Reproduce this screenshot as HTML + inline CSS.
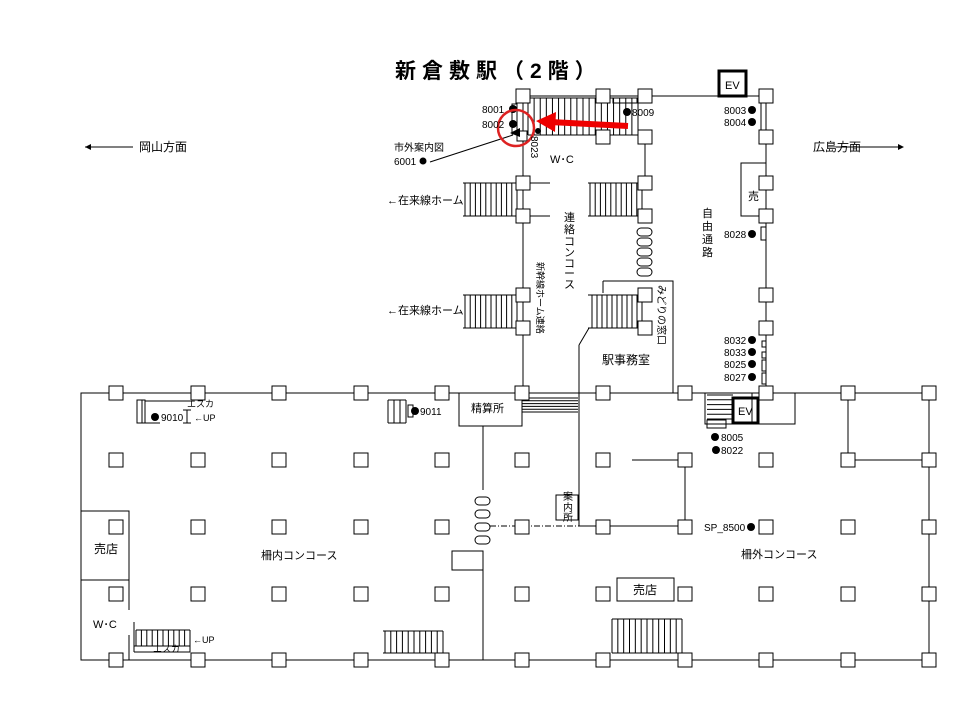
<!DOCTYPE html>
<html><head><meta charset="utf-8"><style>
body{margin:0;background:#fff}
svg{display:block}
text{font-family:"Liberation Sans","Noto Sans CJK JP",sans-serif;font-size:11px;fill:#000}
</style></head><body>
<svg id="s" width="960" height="720" viewBox="0 0 960 720" xmlns="http://www.w3.org/2000/svg">
<g stroke="#000" stroke-width="1" fill="none">
<path d="M81 393H929V660H81Z"/>
<path d="M523 96H766V393"/>
<path d="M523 96V393"/>
<path d="M579 345V526H685V460M632 460H685"/>
<path d="M589 328L579 345"/>
<path d="M603 281H673V393"/>
<path d="M603 281V293"/>
<path d="M645 137V183"/>
<path d="M523 183H550M590 183H645M523 216H550M590 216H645"/>
<path d="M766 163H741V216H766"/>
<rect x="761" y="103" width="5" height="30"/>
<rect x="761" y="227" width="5" height="13"/>
<rect x="762" y="341" width="4" height="6"/><rect x="762" y="352" width="4" height="6"/><rect x="762" y="360" width="4" height="11"/><rect x="762" y="373" width="4" height="11"/>
<rect x="613" y="98" width="24" height="5"/>
<rect x="512" y="104" width="5" height="30"/>
<rect x="459" y="393" width="63" height="33"/>
<path d="M483 426V490M483 570V660"/>
<rect x="452" y="551" width="31" height="19"/>
<path d="M490 526H603" stroke-dasharray="6,2,1,2"/>
<rect x="556" y="495" width="22" height="25"/>
<path d="M705 393H752M705 393V424H733"/>
<rect x="752" y="393" width="43" height="31"/>
<rect x="707" y="420" width="19" height="8"/>
<path d="M848 393V460H929"/>
<path d="M81 511H129V660M81 580H129"/>
<path d="M129 610V635" stroke="#fff" stroke-width="2"/>
<rect x="617" y="578" width="57" height="23"/>
<rect x="137" y="400" width="5" height="23"/><rect x="142" y="400" width="3" height="23"/>
<path d="M145 401H190M145 423H160M187 410V423M183 410H191M183 423H191"/>
<path d="M134 646H190V652H134M134 622V652"/>
<rect x="408" y="405" width="5" height="12"/>
<rect x="719" y="71" width="27" height="25" stroke-width="3"/>
<rect x="733" y="398" width="25" height="25" stroke-width="3"/>
<path d="M430 162L513 135"/>
</g>
<g id="st" stroke="#000" stroke-width="1" fill="none"></g>
<g id="pl" stroke="#000" stroke-width="1" fill="#fff"></g>
<g stroke="#000" fill="#fff">
<rect x="637" y="228" width="15" height="8" rx="4"/><rect x="637" y="238" width="15" height="8" rx="4"/><rect x="637" y="248" width="15" height="8" rx="4"/><rect x="637" y="258" width="15" height="8" rx="4"/><rect x="637" y="268" width="15" height="8" rx="4"/>
<rect x="475" y="497" width="15" height="8" rx="4"/><rect x="475" y="510" width="15" height="8" rx="4"/><rect x="475" y="523" width="15" height="8" rx="4"/><rect x="475" y="536" width="15" height="8" rx="4"/>
</g>
<path d="M510 133L520 128V137Z" fill="#000"/>
<g fill="#000">
<circle cx="513" cy="109" r="4"/><circle cx="513" cy="124" r="4"/><circle cx="627" cy="112" r="4"/>
<circle cx="538" cy="131" r="3"/>
<circle cx="423" cy="161" r="3.5"/>
<circle cx="752" cy="110" r="4"/><circle cx="752" cy="122" r="4"/><circle cx="752" cy="234" r="4"/>
<circle cx="752" cy="340" r="4"/><circle cx="752" cy="352" r="4"/><circle cx="752" cy="364" r="4"/><circle cx="752" cy="377" r="4"/>
<circle cx="155" cy="417" r="4"/><circle cx="415" cy="411" r="4"/>
<circle cx="715" cy="437" r="4"/><circle cx="716" cy="450" r="4"/><circle cx="751" cy="527" r="4"/>
</g>
<path d="M85 147H133M836 147H900" stroke="#000"/>
<path d="M85 147l6-3v6zM904 147l-6-3v6z" fill="#000"/>
<circle cx="516" cy="128" r="18" fill="none" stroke="#d22" stroke-width="2.5"/>
<path d="M628 126L550 122" stroke="#e00" stroke-width="6"/>
<path d="M536 121L556 112L555 132Z" fill="#e00"/>
<text x="395" y="78" style="font-size:21px;font-weight:bold;letter-spacing:6px">新倉敷駅（2階）</text>
<text x="725" y="89" style="font-size:11px">EV</text>
<text x="738" y="415" style="font-size:11px">EV</text>
<text x="482" y="113" style="font-size:10px">8001</text>
<text x="482" y="128" style="font-size:10px">8002</text>
<text x="632" y="116" style="font-size:10px">8009</text>
<text x="724" y="114" style="font-size:10px">8003</text>
<text x="724" y="126" style="font-size:10px">8004</text>
<text x="394" y="151" style="font-size:10px">市外案内図</text>
<text x="394" y="165" style="font-size:10px">6001</text>
<text x="531" y="136" style="font-size:10px" transform="rotate(90 531 136)">8023</text>
<text x="550" y="163" style="font-size:11px">W･C</text>
<text x="139" y="151" style="font-size:12px">岡山方面</text>
<text x="813" y="151" style="font-size:12px">広島方面</text>
<text x="387" y="204" style="font-size:11px">←在来線ホーム</text>
<text x="387" y="314" style="font-size:11px">←在来線ホーム</text>
<text x="748" y="200" style="font-size:11px">売</text>
<text x="724" y="238" style="font-size:10px">8028</text>
<text x="724" y="344" style="font-size:10px">8032</text>
<text x="724" y="356" style="font-size:10px">8033</text>
<text x="724" y="368" style="font-size:10px">8025</text>
<text x="724" y="381" style="font-size:10px">8027</text>
<g style="font-size:11px">
<text x="564" y="221">連</text><text x="564" y="233">絡</text><text x="564" y="245">コ</text><text x="564" y="256">ン</text><text x="564" y="267">コ</text><text x="564" y="277">ー</text><text x="564" y="288">ス</text>
<text x="702" y="217">自</text><text x="702" y="230">由</text><text x="702" y="243">通</text><text x="702" y="256">路</text>
<text x="658" y="285" style="font-size:10px" transform="rotate(90 658 285)">みどりの窓口</text>
<text x="536" y="262" style="font-size:9px" transform="rotate(90 536 262) translate(0 -1)">新幹線ホーム連絡</text>
</g>
<text x="602" y="364" style="font-size:12px">駅事務室</text>
<text x="471" y="412" style="font-size:11px">精算所</text>
<text x="187" y="407" style="font-size:9px">エスカ</text>
<text x="161" y="421" style="font-size:10px">9010</text>
<text x="194" y="421" style="font-size:9px">←UP</text>
<text x="420" y="415" style="font-size:10px">9011</text>
<text x="721" y="441" style="font-size:10px">8005</text>
<text x="721" y="454" style="font-size:10px">8022</text>
<text x="704" y="531" style="font-size:10px">SP_8500</text>
<text x="563" y="500" style="font-size:10px">案</text><text x="563" y="511" style="font-size:10px">内</text><text x="563" y="521" style="font-size:10px">所</text>
<text x="94" y="553" style="font-size:12px">売店</text>
<text x="93" y="628" style="font-size:11px">W･C</text>
<text x="261" y="559" style="font-size:11px">柵内コンコース</text>
<text x="741" y="558" style="font-size:11px">柵外コンコース</text>
<text x="633" y="594" style="font-size:12px">売店</text>
<text x="153" y="652" style="font-size:9px">エスカ</text>
<text x="193" y="643" style="font-size:9px">←UP</text>
</svg>
<script>
var NS="http://www.w3.org/2000/svg";
function el(g,t,a){var e=document.createElementNS(NS,t);for(var k in a)e.setAttribute(k,a[k]);document.getElementById(g).appendChild(e);}
function P(x,y,w){w=w||14;el("pl","rect",{x:x-w/2,y:y-w/2,width:w,height:w});}
var xs=[116,198,279,361,442,522,603,685,766,848,929];
[393,460,527,594,660].forEach(function(y){xs.forEach(function(x){P(x,y);});});
[[523,96],[603,96],[645,96],[766,96],[603,137],[645,137],[766,137],
[523,183],[645,183],[766,183],[523,216],[645,216],[766,216],
[523,295],[645,295],[766,295],[523,328],[645,328],[766,328]].forEach(function(p){P(p[0],p[1]);});
P(522,136,10);
function stair(x1,x2,y1,y2,n,ext){
 el("st","path",{d:"M"+(ext||x1)+" "+y1+"H"+x2+"M"+(ext||x1)+" "+y2+"H"+x2});
 for(var i=0;i<=n;i++){var x=x1+(x2-x1)*i/n;el("st","path",{d:"M"+x+" "+y1+"V"+y2});}
}
function hstair(x1,x2,y1,y2,n){for(var i=0;i<=n;i++){var y=y1+(y2-y1)*i/n;el("st","path",{d:"M"+x1+" "+y+"H"+x2});}}
stair(528,638,98,135,18);
stair(465,517,183,216,10,463);
stair(465,517,295,328,10,463);
stair(590,642,183,216,10,588);
stair(592,642,295,328,10,588);
stair(385,443,631,653,10,383);
stair(612,682,619,653,12,612);
stair(136,190,630,646,10);
stair(388,406,400,423,3);
hstair(522,578,398,412,5);
hstair(707,733,395,419,5);
</script>
</body></html>
